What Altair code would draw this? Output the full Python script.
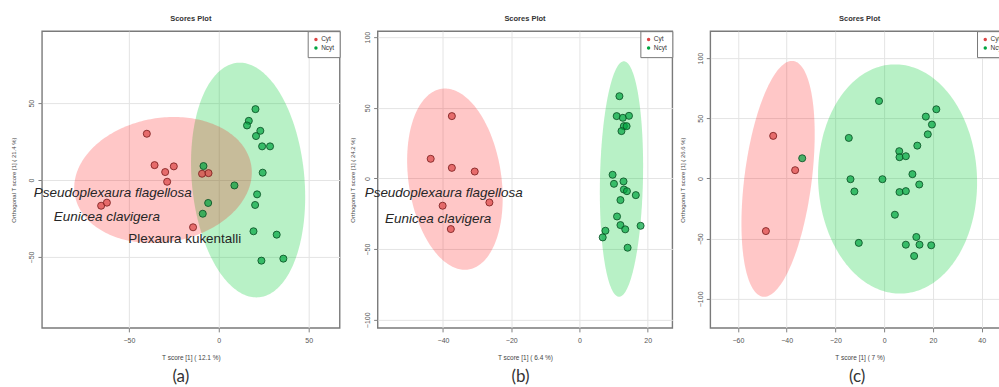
import numpy as np
import pandas as pd
import altair as alt

GROUPS = ["Cyt", "Ncyt"]
POINT_FILL = ["#dc4444", "#00a540"]
POINT_EDGE = ["#7d1f1f", "#0b5226"]
ELLIPSE_FILL = {"Cyt": "#ff0000", "Ncyt": "#00cc33"}
ELLIPSE_OPACITY = {"Cyt": 0.22, "Ncyt": 0.28}
FONT = "Liberation Sans"

# ---------------- panel (a) ----------------
a_cyt_x = [-40.0, -35.7, -25.0, -29.8, -28.7, -65.4, -62.2, -9.3, -5.7, -14.3]
a_cyt_y = [30.1, 9.7, 8.9, 5.2, -1.1, -16.7, -14.7, 4.1, 4.5, -30.7]
a_ncyt_x = [-8.5, 8.7, -5.9, -8.9, 20.4, 16.7, 15.7, 23.1, 20.7, 24.1,
            28.5, 24.4, 21.3, 20.2, 19.3, 32.2, 23.7, 35.9]
a_ncyt_y = [9.1, -3.5, -14.9, -21.9, 46.1, 38.5, 35.5, 32.0, 28.6, 21.9,
            21.9, 4.8, -9.3, -16.2, -33.3, -35.5, -52.4, -51.1]
# confidence ellipses: centre x, centre y, x radius, y radius, x shift of the top
a_ell_cyt = [-31.0, 0.0, 49.0, 41.0, 6.0]
a_ell_ncyt = [16.3, 0.0, 31.4, 76.3, -4.6]
a_x_domain = [-98.3, 67.2]
a_y_domain = [-96.1, 96.8]
a_x_ticks = [-50, 0, 50]
a_y_ticks = [-50, 0, 50]
a_x_title = "T score [1] ( 12.1 %)"
a_y_title = "Orthogonal T score [1] ( 21.4 %)"
a_notes = ["Pseudoplexaura flagellosa", "Eunicea clavigera", "Plexaura kukentalli"]
a_note_x = [-58.9, -62.2, -18.9]
a_note_y = [-8.4, -24.0, -38.3]
a_note_italic = [True, True, False]

# ---------------- panel (b) ----------------
b_cyt_x = [-37.4, -43.6, -37.4, -30.7, -40.1, -26.4, -37.7]
b_cyt_y = [44.1, 13.9, 7.5, 4.9, -19.3, -17.0, -35.8]
b_ncyt_x = [11.7, 10.9, 12.7, 14.5, 13.0, 13.8, 12.3, 9.7, 10.1, 12.9, 13.0,
            13.9, 16.5, 12.0, 11.0, 12.0, 13.4, 17.9, 7.6, 6.8, 14.1]
b_ncyt_y = [58.2, 44.1, 42.9, 44.3, 37.0, 37.0, 33.5, 2.6, -3.8, -2.1, -7.8,
            -9.0, -11.8, -15.3, -26.9, -33.0, -36.0, -33.5, -37.0, -41.7, -49.0]
b_ell_cyt = [-36.5, -0.5, 13.7, 64.1, -2.9]
b_ell_ncyt = [12.3, -0.4, 6.3, 83.3, 0.7]
b_x_domain = [-59.15, 27.2]
b_y_domain = [-105.7, 104.2]
b_x_ticks = [-40, -20, 0, 20]
b_y_ticks = [-100, -50, 0, 50, 100]
b_x_title = "T score [1] ( 6.4 %)"
b_y_title = "Orthogonal T score [1] ( 24.2 %)"
b_notes = ["Pseudoplexaura flagellosa", "Eunicea clavigera"]
b_note_x = [-39.8, -41.4]
b_note_y = [-10.6, -29.0]
b_note_italic = [True, True]

# ---------------- panel (c) ----------------
c_cyt_x = [-45.5, -36.5, -48.5]
c_cyt_y = [35.4, 6.9, -43.7]
c_ncyt_x = [-33.6, -2.1, -14.5, 21.4, 17.1, 19.6, 17.9, 13.6, 6.2, 6.3, 8.9,
            11.6, 14.4, -13.8, -0.7, -12.2, 6.3, 8.9, 4.4, -10.4, 13.2, 8.9,
            14.5, 19.3, 12.3]
c_ncyt_y = [16.8, 64.4, 33.7, 57.5, 51.4, 44.8, 36.7, 27.3, 22.7, 17.7, 18.5,
            3.6, -5.0, -0.6, -0.6, -10.8, -11.3, -10.5, -30.1, -53.5, -48.6,
            -55.0, -55.0, -55.5, -64.4]
c_ell_cyt = [-43.5, -0.3, 13.9, 98.0, 5.7]
c_ell_ncyt = [5.5, -0.4, 32.6, 95.2, -1.0]
c_x_domain = [-71.3, 51.2]
c_y_domain = [-124.1, 122.4]
c_x_ticks = [-60, -40, -20, 0, 20, 40]
c_y_ticks = [-100, -50, 0, 50, 100]
c_x_title = "T score [1] ( 7 %)"
c_y_title = "Orthogonal T score [1] ( 26.6 %)"
c_notes = []
c_note_x = []
c_note_y = []
c_note_italic = []

captions = ["(a)", "(b)", "(c)"]


def ellipse_frame(params):
    cx, cy, rx, ry, kx = params
    t = np.linspace(0, 2 * np.pi, 241)
    return pd.DataFrame({
        "x": cx + rx * np.cos(t) + kx * np.sin(t),
        "y": cy + ry * np.sin(t),
        "k": np.arange(t.size),
    })


def panel(cyt_x, cyt_y, ncyt_x, ncyt_y, ell_cyt, ell_ncyt, x_domain, y_domain,
          x_ticks, y_ticks, x_title, y_title, notes, note_x, note_y, note_italic,
          caption, width, height, title_x, caption_x):
    xenc = alt.X("x:Q", scale=alt.Scale(domain=x_domain, nice=False, zero=False),
                 axis=alt.Axis(values=x_ticks, title=x_title, grid=True,
                               gridColor="#e4e4e4", domain=False,
                               tickColor="#808080", tickSize=4,
                               labelFont=FONT, labelFontSize=7, labelColor="#555",
                               labelPadding=5, titleFont=FONT, titleFontSize=6.5,
                               titleFontWeight="normal", titleColor="#444",
                               titleY=30, titleBaseline="middle"))
    yenc = alt.Y("y:Q", scale=alt.Scale(domain=y_domain, nice=False, zero=False),
                 axis=alt.Axis(values=y_ticks, title=y_title, grid=True,
                               gridColor="#e4e4e4", domain=False,
                               tickColor="#808080", tickSize=4,
                               labelFont=FONT, labelFontSize=7, labelColor="#555",
                               labelAngle=270, labelAlign="center",
                               labelBaseline="bottom", labelPadding=3,
                               titleFont=FONT, titleFontSize=6,
                               titleFontWeight="normal", titleColor="#444",
                               titleX=title_x, titleBaseline="middle"))

    layers = []
    for grp, params in (("Ncyt", ell_ncyt), ("Cyt", ell_cyt)):
        layers.append(
            alt.Chart(ellipse_frame(params)).mark_line(
                fill=ELLIPSE_FILL[grp], fillOpacity=ELLIPSE_OPACITY[grp],
                strokeOpacity=0, strokeWidth=0,
            ).encode(x=xenc, y=yenc, order="k:Q")
        )

    pts = pd.DataFrame({
        "x": list(cyt_x) + list(ncyt_x),
        "y": list(cyt_y) + list(ncyt_y),
        "group": ["Cyt"] * len(cyt_x) + ["Ncyt"] * len(ncyt_x),
    })
    layers.append(
        alt.Chart(pts).mark_circle(size=50, fillOpacity=0.7, strokeWidth=0.9,
                                   strokeOpacity=0.95).encode(
            x=xenc, y=yenc,
            fill=alt.Fill("group:N", scale=alt.Scale(domain=GROUPS, range=POINT_FILL),
                          legend=alt.Legend(title=None, orient="top-right", offset=0,
                                            padding=5, strokeColor="#777",
                                            fillColor="white", labelFont=FONT,
                                            labelFontSize=6.5, labelColor="#333",
                                            symbolType="circle", symbolSize=12,
                                            symbolStrokeWidth=0, rowPadding=1.5,
                                            labelOffset=2, cornerRadius=0)),
            stroke=alt.Stroke("group:N", scale=alt.Scale(domain=GROUPS, range=POINT_EDGE),
                              legend=None),
        )
    )

    if notes:
        nt = pd.DataFrame({"x": note_x, "y": note_y, "label": notes,
                           "italic": note_italic})
        for italic in (True, False):
            sub = nt[nt["italic"] == italic]
            if len(sub):
                layers.append(
                    alt.Chart(sub).mark_text(
                        font=FONT, fontSize=13.5, color="#262626",
                        fontStyle="italic" if italic else "normal",
                        align="center", baseline="middle",
                    ).encode(x=xenc, y=yenc, text="label:N")
                )

    cap = pd.DataFrame({"label": [caption]})
    layers.append(
        alt.Chart(cap).mark_text(font="Lato", fontSize=17, color="#333",
                                 align="center", baseline="middle").encode(
            text="label:N", x=alt.value(caption_x), y=alt.value(346))
    )

    return alt.layer(*layers).properties(
        width=width, height=height,
        title=alt.TitleParams("Scores Plot", font=FONT, fontSize=7.5,
                              fontWeight="bold", color="#333", anchor="middle",
                              frame="group", offset=8),
    )


pa = panel(a_cyt_x, a_cyt_y, a_ncyt_x, a_ncyt_y, a_ell_cyt, a_ell_ncyt, a_x_domain,
           a_y_domain, a_x_ticks, a_y_ticks, a_x_title, a_y_title, a_notes, a_note_x,
           a_note_y, a_note_italic, captions[0], 298, 297, -28, 139)
pb = panel(b_cyt_x, b_cyt_y, b_ncyt_x, b_ncyt_y, b_ell_cyt, b_ell_ncyt, b_x_domain,
           b_y_domain, b_x_ticks, b_y_ticks, b_x_title, b_y_title, b_notes, b_note_x,
           b_note_y, b_note_italic, captions[1], 295, 297, -25, 143)
pc = panel(c_cyt_x, c_cyt_y, c_ncyt_x, c_ncyt_y, c_ell_cyt, c_ell_ncyt, c_x_domain,
           c_y_domain, c_x_ticks, c_y_ticks, c_x_title, c_y_title, c_notes, c_note_x,
           c_note_y, c_note_italic, captions[2], 299, 297, -28, 147)

# the right-hand panel runs past the page edge; the negative right padding
# trims the drawing to the page width instead of shrinking it
chart = (
    alt.hconcat(pa, pb, pc, spacing=38, bounds="flush")
    .resolve_scale(x="independent", y="independent", fill="independent",
                   stroke="independent")
    .resolve_legend(fill="independent", stroke="independent")
    .properties(padding={"left": 10, "top": 14, "right": -12, "bottom": 0},
                background="white")
    .configure_view(stroke="#7a7a7a", strokeWidth=1.4)
)

chart.save("out.html", embed_options={"renderer": "svg", "actions": False})
